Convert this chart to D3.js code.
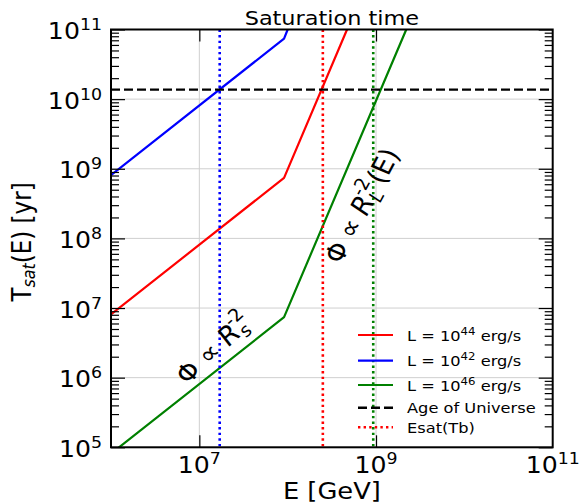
<!DOCTYPE html>
<html>
<head>
<meta charset="utf-8">
<script src="https://cdn.jsdelivr.net/npm/d3@7"></script>
<style>
  html, body { margin: 0; padding: 0; background: #fff; }
  svg { display: block; font-family: "DejaVu Sans", sans-serif; }
</style>
</head>
<body>
<svg id="chart" width="582" height="504"></svg>
<script>
// Saturation time vs energy for three source luminosities
const eL44 = [1e6, 9.1e7, 4.7e8];
const tL44 = [8.1e6, 7.4e8, 1.0e11];
const eL42 = [1e6, 9.1e7, 1.0e8];
const tL42 = [8.1e8, 7.4e10, 1.0e11];
const eL46 = [1e6, 9.1e7, 2.2e9];
const tL46 = [8.1e4, 7.4e6, 1.0e11];

const ageOfUniverse = 1.37e10;           // yr
const esatValues = [1.7e7, 2.5e8, 9.3e8]; // GeV, Esat(Tb) per luminosity
const esatColors = ["#0000ff", "#ff0000", "#008000"];

const yTickExponents = [5, 6, 7, 8, 9, 10, 11];
const xTickExponents = [7, 9, 11];

const legendLabels = [
  { base: "L = 10", sup: "44", tail: " erg/s" },
  { base: "L = 10", sup: "42", tail: " erg/s" },
  { base: "L = 10", sup: "46", tail: " erg/s" },
  { base: "Age of Universe" },
  { base: "Esat(Tb)" }
];

const svg = d3.select("#chart");
const pL = 111, pR = 552.7, pT = 29.5, pB = 447.3;
const TEXT_STRETCH = 1.12; // glyphs are drawn slightly wide

const x = d3.scaleLog().domain([1e6, 1e11]).range([pL, pR]);
const y = d3.scaleLog().domain([1e5, 1e11]).range([pB, pT]);

function textAt(parent, px, py, rot) {
  return parent.append("text")
    .attr("transform", `translate(${px},${py}) scale(${TEXT_STRETCH},1)` + (rot ? ` rotate(${rot})` : ""))
    .attr("fill", "#000");
}

svg.append("rect").attr("width", 582).attr("height", 504).attr("fill", "#fff");

svg.append("defs").append("clipPath").attr("id", "plotClip")
  .append("rect").attr("x", pL).attr("y", pT)
  .attr("width", pR - pL).attr("height", pB - pT);

// grid
const grid = svg.append("g").attr("stroke", "#cfcfcf").attr("stroke-width", 1);
grid.selectAll("line.gy").data(yTickExponents.map(e => Math.pow(10, e))).join("line")
  .attr("x1", pL).attr("x2", pR)
  .attr("y1", d => y(d)).attr("y2", d => y(d));
grid.selectAll("line.gx").data([1e7, 1e9]).join("line")
  .attr("y1", pT).attr("y2", pB)
  .attr("x1", d => x(d)).attr("x2", d => x(d));

const plot = svg.append("g").attr("clip-path", "url(#plotClip)");
const line = d3.line().x(d => x(d[0])).y(d => y(d[1]));

const series = [
  { e: eL44, t: tL44, color: "#ff0000" },
  { e: eL42, t: tL42, color: "#0000ff" },
  { e: eL46, t: tL46, color: "#008000" }
];
series.forEach(s => {
  plot.append("path")
    .datum(d3.zip(s.e, s.t))
    .attr("d", line)
    .attr("fill", "none")
    .attr("stroke", s.color)
    .attr("stroke-width", 2.2)
    .attr("stroke-linejoin", "round");
});

// age of the universe
plot.append("line")
  .attr("x1", pL).attr("x2", pR)
  .attr("y1", y(ageOfUniverse)).attr("y2", y(ageOfUniverse))
  .attr("stroke", "#000").attr("stroke-width", 2.4)
  .attr("stroke-dasharray", "9,4");

// Esat(Tb) markers
plot.selectAll("line.esat").data(esatValues).join("line")
  .attr("x1", d => x(d)).attr("x2", d => x(d))
  .attr("y1", pT).attr("y2", pB)
  .attr("stroke", (d, i) => esatColors[i])
  .attr("stroke-width", 2.6)
  .attr("stroke-dasharray", "2.4,3.2");

// annotations
const ann1 = textAt(svg, 187.5, 385.5, -46).attr("font-size", 25);
ann1.append("tspan").text("Φ ∝ ");
ann1.append("tspan").attr("font-style", "italic").text("R");
ann1.append("tspan").attr("font-style", "italic").attr("font-size", 17.5).attr("dy", 5).text("s");
ann1.append("tspan").attr("font-size", 17.5).attr("dx", -11).attr("dy", -17).text("-2");

const ann2 = textAt(svg, 341, 265, -64.5).attr("font-size", 25);
ann2.append("tspan").text("Φ ∝ ");
ann2.append("tspan").attr("font-style", "italic").text("R");
ann2.append("tspan").attr("font-style", "italic").attr("font-size", 17.5).attr("dy", 5).text("L");
ann2.append("tspan").attr("font-size", 17.5).attr("dx", -11).attr("dy", -17).text("-2");
ann2.append("tspan").attr("dx", 1).attr("dy", 12).text("(E)");

// frame
svg.append("rect").attr("x", pL).attr("y", pT)
  .attr("width", pR - pL).attr("height", pB - pT)
  .attr("fill", "none").attr("stroke", "#000").attr("stroke-width", 2);

// ticks
const yMajor = yTickExponents.map(e => Math.pow(10, e));
const yMinor = [];
for (let e = 5; e < 11; e++) for (let m = 2; m <= 9; m++) yMinor.push(m * Math.pow(10, e));

function styleAxis(g) {
  g.select(".domain").remove();
  g.selectAll(".tick line").attr("stroke", "#000").attr("stroke-width", 1.2);
  g.selectAll(".tick text").remove();
}
svg.append("g").attr("transform", `translate(${pL},0)`)
  .call(d3.axisLeft(y).tickValues(yMajor).tickSize(-14)).call(styleAxis);
svg.append("g").attr("transform", `translate(${pL},0)`)
  .call(d3.axisLeft(y).tickValues(yMinor).tickSize(-8)).call(styleAxis);
svg.append("g").attr("transform", `translate(${pR},0)`)
  .call(d3.axisRight(y).tickValues(yMajor).tickSize(-14)).call(styleAxis);
svg.append("g").attr("transform", `translate(${pR},0)`)
  .call(d3.axisRight(y).tickValues(yMinor).tickSize(-8)).call(styleAxis);
svg.append("g").attr("transform", `translate(0,${pB})`)
  .call(d3.axisBottom(x).tickValues([1e7, 1e9]).tickSize(-12)).call(styleAxis);
svg.append("g").attr("transform", `translate(0,${pT})`)
  .call(d3.axisTop(x).tickValues([1e7, 1e9]).tickSize(-12)).call(styleAxis);

// tick labels with exponents
function powLabel(sel, exp) {
  sel.append("tspan").text("10");
  sel.append("tspan").attr("font-size", 15.5).attr("dy", -9).text(String(exp));
}
yTickExponents.forEach(e => {
  const t = textAt(svg, 102, y(Math.pow(10, e)) + 9.5)
    .attr("text-anchor", "end").attr("font-size", 22.5);
  powLabel(t, e);
});
xTickExponents.forEach(e => {
  const t = textAt(svg, x(Math.pow(10, e)), 472.5)
    .attr("text-anchor", "middle").attr("font-size", 22.5);
  powLabel(t, e);
});

// titles
textAt(svg, (pL + pR) / 2, 25).attr("text-anchor", "middle")
  .attr("font-size", 20).text("Saturation time");
textAt(svg, (pL + pR) / 2, 499).attr("text-anchor", "middle")
  .attr("font-size", 23).text("E [GeV]");
const yl = textAt(svg, 31, 242, -90).attr("text-anchor", "middle").attr("font-size", 23);
yl.append("tspan").text("T");
yl.append("tspan").attr("font-size", 16).attr("font-style", "italic").attr("dy", 4).text("sat");
yl.append("tspan").attr("dy", -4).text("(E) [yr]");

// legend
const legendRows = [335, 360.7, 385, 407.7, 427.3];
const legendStyles = [
  { color: "#ff0000", dash: null, w: 2.2 },
  { color: "#0000ff", dash: null, w: 2.2 },
  { color: "#008000", dash: null, w: 2.2 },
  { color: "#000", dash: "9,4", w: 2.4 },
  { color: "#ff0000", dash: "2.4,3.2", w: 2.6 }
];
const legend = svg.append("g");
legendLabels.forEach((lab, i) => {
  const ly = legendRows[i];
  legend.append("line")
    .attr("x1", 358).attr("x2", 393).attr("y1", ly).attr("y2", ly)
    .attr("stroke", legendStyles[i].color)
    .attr("stroke-width", legendStyles[i].w)
    .attr("stroke-dasharray", legendStyles[i].dash);
  const t = textAt(legend, 407, ly + 5.5).attr("font-size", 14.5);
  t.append("tspan").text(lab.base);
  if (lab.sup) {
    t.append("tspan").attr("font-size", 10.5).attr("dy", -6).text(lab.sup);
    t.append("tspan").attr("dy", 6).text(lab.tail);
  }
});
</script>
</body>
</html>
